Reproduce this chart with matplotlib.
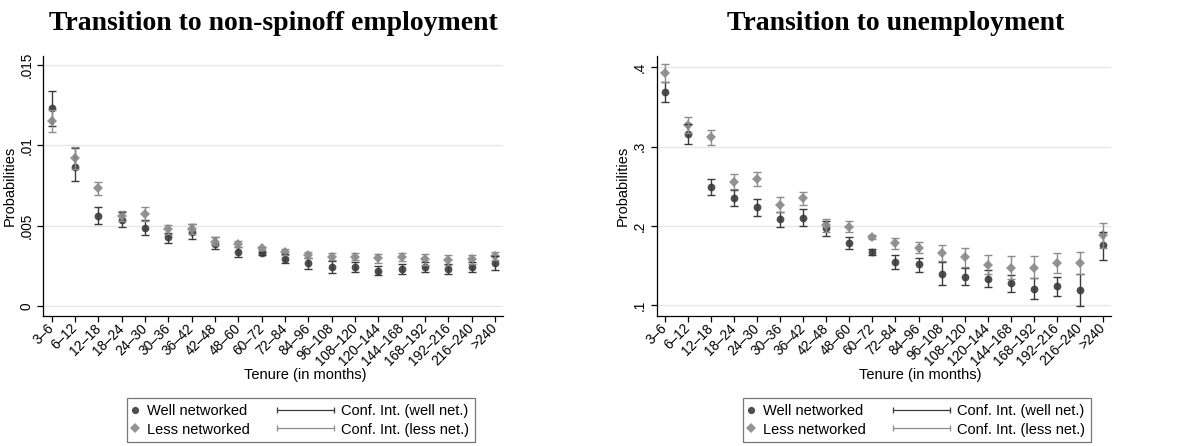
import numpy as np
import matplotlib
matplotlib.use("Agg")
from matplotlib import pyplot as plt
from matplotlib.lines import Line2D
from matplotlib.legend_handler import HandlerBase
from matplotlib.ticker import FuncFormatter

plt.rcParams['font.family'] = ['Liberation Sans', 'DejaVu Sans']

tenure = ['3–6', '6–12', '12–18', '18–24', '24–30', '30–36', '36–42', '42–48',
          '48–60', '60–72', '72–84', '84–96', '96–108', '108–120', '120–144',
          '144–168', '168–192', '192–216', '216–240', '>240']

# transition to non-spinoff employment
emp_well = [.01231, .00867, .00562, .00535, .00484, .00428, .00463, .00386, .00334, .00328,
            .00291, .00266, .00245, .00241, .00220, .00228, .00241, .00228, .00245, .00270]
emp_well_lo = [.01121, .00778, .00511, .00490, .00440, .00394, .00419, .00353, .00307, .00318,
               .00266, .00228, .00208, .00214, .00193, .00199, .00210, .00199, .00214, .00224]
emp_well_hi = [.01339, .00986, .00614, .00585, .00535, .00457, .00510, .00432, .00365, .00338,
               .00322, .00297, .00280, .00274, .00251, .00262, .00272, .00259, .00276, .00311]
emp_less = [.01150, .00920, .00733, .00562, .00573, .00477, .00477, .00400, .00386, .00359,
            .00334, .00318, .00307, .00307, .00297, .00307, .00291, .00286, .00291, .00311]
emp_less_lo = [.01080, .00850, .00691, .00530, .00530, .00450, .00450, .00380, .00365, .00350,
               .00315, .00298, .00286, .00286, .00270, .00282, .00258, .00254, .00264, .00284]
emp_less_hi = [.01220, .00990, .00774, .00590, .00614, .00506, .00510, .00430, .00407, .00370,
               .00353, .00338, .00328, .00328, .00324, .00332, .00324, .00318, .00318, .00338]

# transition to unemployment
une_well = [.3686, .3160, .2488, .2350, .2236, .2084, .2105, .1970, .1790, .1676,
            .1550, .1517, .1395, .1353, .1328, .1277, .1206, .1243, .1193, .1760]
une_well_lo = [.3560, .3030, .2390, .2250, .2126, .1990, .2000, .1870, .1710, .1640,
               .1460, .1425, .1257, .1260, .1227, .1164, .1079, .1113, .0993, .1570]
une_well_hi = [.3820, .3290, .2587, .2450, .2335, .2180, .2210, .2067, .1860, .1710,
               .1640, .1600, .1550, .1470, .1446, .1380, .1344, .1360, .1395, .1920]
une_less = [.3933, .3270, .3119, .2559, .2593, .2265, .2350, .2010, .1990, .1858,
            .1780, .1726, .1655, .1605, .1508, .1466, .1474, .1530, .1530, .1887]
une_less_lo = [.3820, .3170, .3020, .2460, .2500, .2170, .2260, .1930, .1930, .1830,
               .1710, .1656, .1556, .1480, .1400, .1330, .1345, .1405, .1395, .1720]
une_less_hi = [.4040, .3370, .3208, .2660, .2680, .2360, .2430, .2090, .2060, .1880,
               .1850, .1795, .1760, .1727, .1630, .1617, .1622, .1665, .1677, .2043]

DARK = '#4f4f4f'
LIGHT = '#949494'
CI_DARK = '#3a3a3a'
CI_LIGHT = '#8c8c8c'
FS = 10.5      # axis titles and legend
TICK_FS = 9.8  # tick labels

W, H = 1177, 446


def px_rect(x0, y0, x1, y1):
    return [x0 / W, 1 - y1 / H, (x1 - x0) / W, (y1 - y0) / H]


def prob_fmt(v, pos):
    if abs(v) < 1e-12:
        return '0'
    return ('%g' % v).lstrip('0')


class HandlerCap(HandlerBase):
    """Horizontal capped bar for the confidence-interval legend keys."""

    def create_artists(self, legend, orig_handle, xdescent, ydescent, width, height,
                       fontsize, trans):
        y = height / 2 - ydescent
        x1 = width - xdescent + 0.11 * fontsize
        x0 = -xdescent - 3.4 * fontsize
        col = orig_handle.get_color()
        line = Line2D([x0, x1], [y, y], color=col, lw=0.9)
        caps = Line2D([x0, x1], [y, y], ls='none', marker='|', markersize=4.5,
                      markeredgewidth=0.9, color=col)
        for a in (line, caps):
            a.set_transform(trans)
        return [line, caps]


def panel(ax, well, well_lo, well_hi, less, less_lo, less_hi, yticks, ylim):
    x = np.arange(len(tenure))
    well = np.array(well)
    less = np.array(less)
    ax.plot(x, well, 'o', color=DARK, markersize=5.6, markeredgewidth=0, zorder=3)
    ax.plot(x, less, 'D', color=LIGHT, markersize=5.2, markeredgewidth=0, zorder=3)
    ax.errorbar(x, well, yerr=[well - np.array(well_lo), np.array(well_hi) - well],
                fmt='none', ecolor=CI_DARK, elinewidth=1.0, capsize=2.6, capthick=1.0, zorder=4)
    ax.errorbar(x, less, yerr=[less - np.array(less_lo), np.array(less_hi) - less],
                fmt='none', ecolor=CI_LIGHT, elinewidth=1.0, capsize=2.6, capthick=1.0, zorder=4)

    ax.set_xlim(-0.36, len(tenure) - 1 + 0.35)
    ax.set_ylim(*ylim)
    ax.set_xticks(x)
    ax.set_xticklabels(tenure, rotation=45, ha='right', va='center',
                       rotation_mode='anchor', fontsize=TICK_FS)
    ax.set_yticks(yticks)
    ax.yaxis.set_major_formatter(FuncFormatter(prob_fmt))
    for lab in ax.get_yticklabels():
        lab.set_rotation(90)
        lab.set_va('center')
        lab.set_fontsize(TICK_FS)
    ax.tick_params(axis='x', length=4, width=0.9, pad=3.5, color='black')
    ax.tick_params(axis='y', length=4, width=0.9, pad=3, color='black')
    ax.grid(axis='y', color='#e6e6e6', lw=1.0)
    ax.set_axisbelow(True)
    for s in ('top', 'right'):
        ax.spines[s].set_visible(False)
    for s in ('left', 'bottom'):
        ax.spines[s].set_linewidth(0.9)
    ax.set_ylabel('Probabilities', fontsize=FS, labelpad=2)


fig = plt.figure(figsize=(W / 100, H / 100), dpi=100)

ax1 = fig.add_axes(px_rect(43.3, 56, 503.3, 315.7))
panel(ax1, emp_well, emp_well_lo, emp_well_hi, emp_less, emp_less_lo, emp_less_hi,
      [0, .005, .01, .015], (-0.0006, .01556))

ax2 = fig.add_axes(px_rect(656.7, 56, 1111, 315.7))
panel(ax2, une_well, une_well_lo, une_well_hi, une_less, une_less_lo, une_less_hi,
      [.1, .2, .3, .4], (.0869, .4142))

title_font = dict(family=['Liberation Serif', 'DejaVu Serif'], fontweight='bold', fontsize=20)
fig.text(49 / W, 1 - 29.5 / H, 'Transition to non-spinoff employment', ha='left', va='baseline',
         **title_font)
fig.text(727 / W, 1 - 29.5 / H, 'Transition to unemployment', ha='left', va='baseline',
         **title_font)

for xc in (305, 920):
    fig.text(xc / W, 1 - 375 / H, 'Tenure (in months)', ha='center', va='center', fontsize=FS)

handles = [
    Line2D([], [], ls='none', marker='o', color=DARK, markersize=5.2, markeredgewidth=0),
    Line2D([], [], ls='none', marker='D', color=LIGHT, markersize=4.6, markeredgewidth=0),
    Line2D([], [], color=CI_DARK),
    Line2D([], [], color=CI_LIGHT),
]
labels = ['Well networked', 'Less networked', 'Conf. Int. (well net.)', 'Conf. Int. (less net.)']
hmap = {handles[2]: HandlerCap(), handles[3]: HandlerCap()}

for x_left in (126.7, 742.7):
    leg = fig.legend(handles, labels, handler_map=hmap, ncol=2, loc='upper left',
                     bbox_to_anchor=(x_left / W, 1 - 398.3 / H), borderaxespad=0,
                     fontsize=FS, frameon=True, fancybox=False, edgecolor='#555555',
                     borderpad=0.4, handlelength=0.4, handletextpad=0.62,
                     columnspacing=5.2, labelspacing=0.3, numpoints=1)
    leg.get_frame().set_linewidth(0.9)

fig.savefig('out.png', dpi=100)
